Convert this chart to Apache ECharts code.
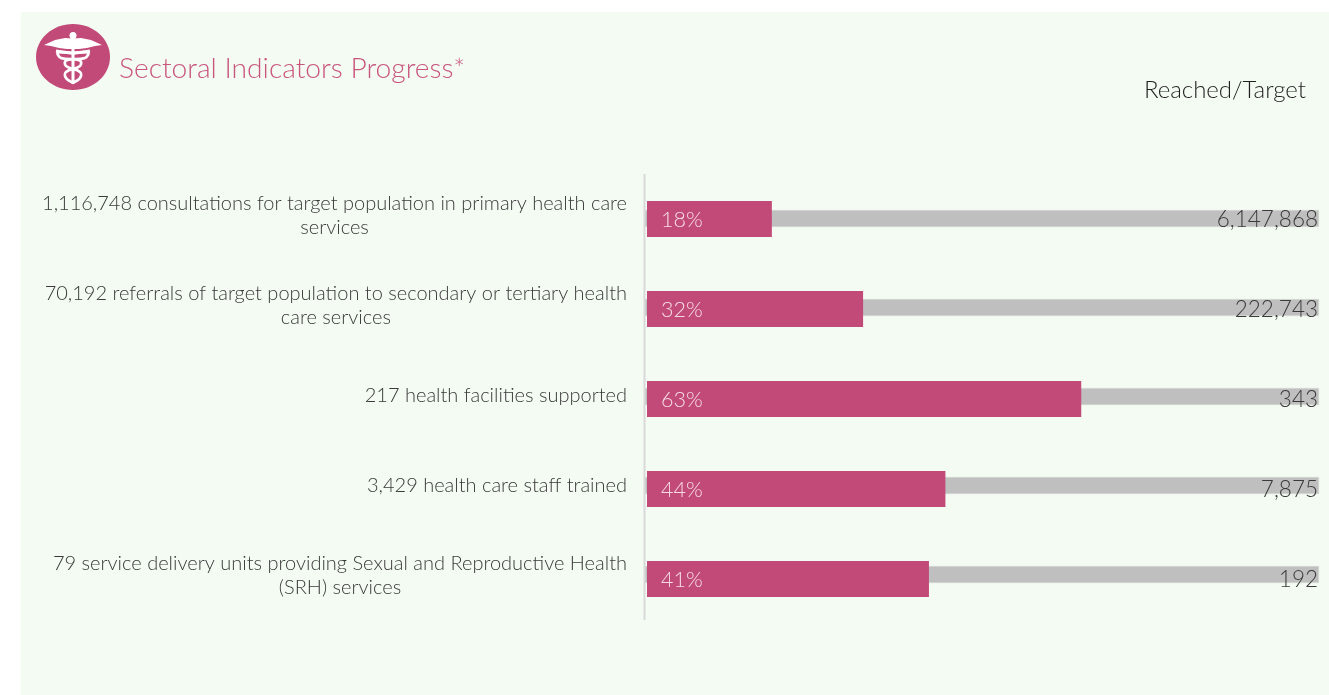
<!DOCTYPE html>
<html><head><meta charset="utf-8">
<style>html,body{margin:0;padding:0;background:#fff}#c{width:1329px;height:695px}</style>
<script src="https://cdn.jsdelivr.net/npm/echarts@6/dist/echarts.min.js"></script>
</head><body><div id="c"></div>
<script>
const categories = [
  "1,116,748 consultations for target population in primary health care\nservices",
  "70,192 referrals of target population to secondary or tertiary health\ncare services",
  "217 health facilities supported",
  "3,429 health care staff trained",
  "79 service delivery units providing Sexual and Reproductive Health\n(SRH) services"
];
const reachedShare = [18.2, 31.5, 63.3, 43.5, 41.1];
const percentLabels = ["18%", "32%", "63%", "44%", "41%"];
const targetLabels = ["6,147,868", "222,743", "343", "7,875", "192"];
const targetShare = [100, 100, 100, 100, 100];

const FONT = 'Lato';
const PINK = '#c24a78';
const chart = echarts.init(document.getElementById('c'), null, {renderer:'canvas', width:1329, height:695});

const hiddenCat = i => ({type:'category', gridIndex:i, inverse:true, data:categories,
  axisLine:{show:false}, axisTick:{show:false}, axisLabel:{show:false}, splitLine:{show:false}});
const hiddenVal = i => ({type:'value', gridIndex:i, min:0, max:100, show:false});

const wing = s => [[73,38.5],[73+s*8,38],[73+s*18,40],[73+s*29,45],[73+s*22,46],[73+s*14,48],[73+s*6,49],[73,49]];
const snake = s => [[73-s*17,51],[73-s*2,53],[73+s*15,52.5],[73+s*12,58],[73-s*7,60.5],[73-s*7,66],[73+s*7,72],[73+s*7,78],[73-s*1,83]];

chart.setOption({
  animation:false,
  backgroundColor:'transparent',
  title:[
    {text:'Sectoral Indicators Progress*', left:119, top:55, padding:0,
     textStyle:{fontFamily:FONT, fontWeight:300, fontSize:28.2, color:'#c9557f'}},
    {text:'Reached/Target', right:23, top:78, padding:0,
     textStyle:{fontFamily:FONT, fontWeight:300, fontSize:24, color:'#1f1f1f'}}
  ],
  grid:[
    {left:645, top:174, width:674, height:445, outerBoundsMode:'none'},
    {left:647, top:174, width:686, height:450, outerBoundsMode:'none'},
    {left:645, top:174, width:674, height:450, outerBoundsMode:'none'}
  ],
  xAxis:[hiddenVal(0), hiddenVal(1), hiddenVal(2)],
  yAxis:[
    hiddenCat(0),
    Object.assign(hiddenCat(1), {axisLabel:{show:true, interval:0, align:'right', margin:20, padding:[0,0,6,0],
      formatter:v => v.split('\n').map(l => '{c|'+l+'}').join('\n'),
      rich:{c:{align:'center', fontFamily:FONT, fontWeight:300, fontSize:20, lineHeight:24, color:'#3a3a3a'}}}}),
    hiddenCat(2)
  ],
  series:[
    {type:'bar', xAxisIndex:0, yAxisIndex:0, data:targetShare, barWidth:17, z:2,
     itemStyle:{color:'#bfbfbf', borderColor:'#dcdedb', borderWidth:0.5}},
    {type:'bar', xAxisIndex:1, yAxisIndex:1, data:reachedShare, barWidth:36, z:3,
     itemStyle:{color:PINK},
     label:{show:true, position:'insideLeft', distance:14, offset:[0,1],
       formatter:p => percentLabels[p.dataIndex],
       fontFamily:FONT, fontWeight:300, fontSize:21.5, color:'#f6dbe5'}},
    {type:'bar', xAxisIndex:2, yAxisIndex:2, data:targetShare, barWidth:17, z:4,
     itemStyle:{color:'transparent'},
     label:{show:true, position:'insideRight', distance:1, offset:[0,1],
       formatter:p => targetLabels[p.dataIndex],
       fontFamily:FONT, fontWeight:300, fontSize:22.5, color:'#3a3a3a'}}
  ],
  graphic:[
    {type:'rect', z:-10, silent:true, shape:{x:21,y:12,width:1308,height:683}, style:{fill:'#f3fbf2'}},
    {type:'line', z:1, silent:true, shape:{x1:644.5,y1:174,x2:644.5,y2:620}, style:{stroke:'#d9d9d9', lineWidth:2}},
    {type:'ellipse', z:5, silent:true, shape:{cx:73,cy:57,rx:37,ry:33}, style:{fill:PINK}},
    {type:'circle', z:6, silent:true, shape:{cx:73,cy:35.5,r:3.5}, style:{fill:'#fff'}},
    {type:'rect', z:6, silent:true, shape:{x:71.5,y:38,width:3,height:46}, style:{fill:'#fff'}},
    {type:'polygon', z:6, silent:true, shape:{points:wing(-1)}, style:{fill:'#fff'}},
    {type:'polygon', z:6, silent:true, shape:{points:wing(1)}, style:{fill:'#fff'}},
    {type:'polyline', z:6, silent:true, shape:{points:snake(1), smooth:0.4}, style:{stroke:'#fff', lineWidth:2.8, fill:null}},
    {type:'polyline', z:6, silent:true, shape:{points:snake(-1), smooth:0.4}, style:{stroke:'#fff', lineWidth:2.8, fill:null}}
  ]
});
</script></body></html>
